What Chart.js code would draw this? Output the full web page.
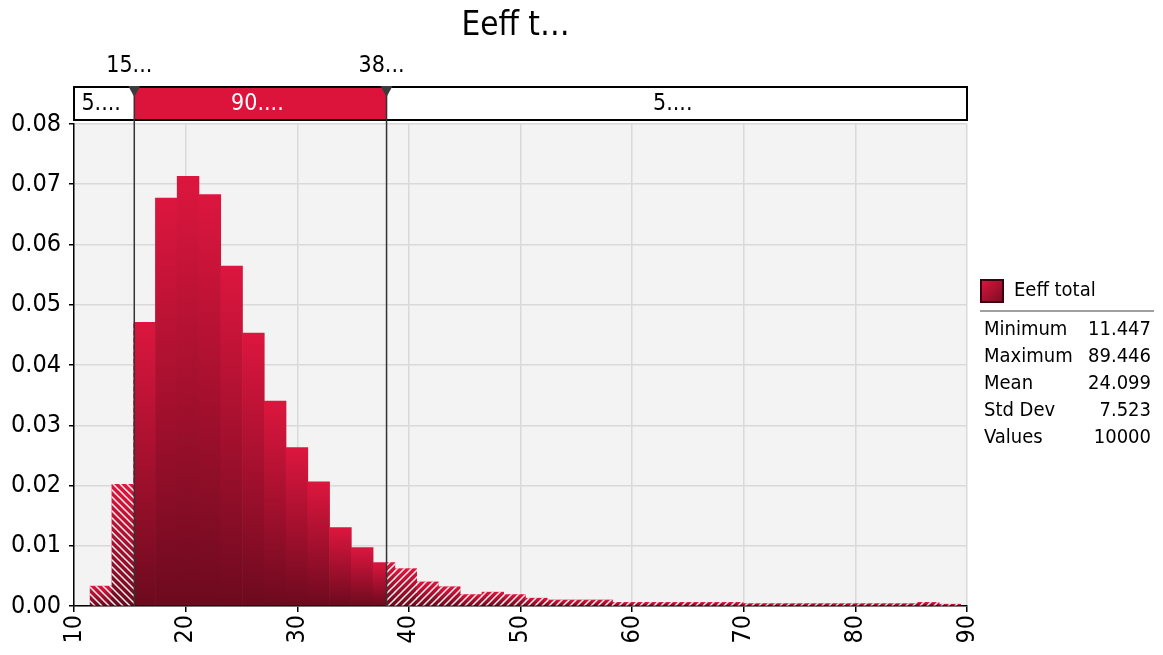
<!DOCTYPE html>
<html>
<head>
<meta charset="utf-8">
<script src="https://cdn.jsdelivr.net/npm/chart.js@4.4.1/dist/chart.umd.min.js"></script>
<style>
  html, body { margin: 0; padding: 0; background: #fff; }
  #wrap { width: 1163px; height: 655px; }
</style>
</head>
<body>
<div id="wrap"><canvas id="hist"></canvas></div>
<script>
var FONT = "'DejaVu Sans Condensed', 'DejaVu Sans', Verdana, sans-serif";

// histogram bins (centres) and density values
var binCenters = [12.42, 14.37, 16.32, 18.27, 20.22, 22.17, 24.12, 26.07, 28.02, 29.97,
    31.92, 33.87, 35.82, 37.77, 39.72, 41.67, 43.62, 45.57, 47.52, 49.47,
    51.42, 53.37, 55.32, 57.27, 59.22, 61.17, 63.12, 65.07, 67.02, 68.97,
    70.92, 72.87, 74.82, 76.77, 78.72, 80.67, 82.62, 84.57, 86.52, 88.47];
var density = [0.0033, 0.0202, 0.0471, 0.0677, 0.0713, 0.0683, 0.0564, 0.0453, 0.0340, 0.0263,
    0.0206, 0.0130, 0.0097, 0.0072, 0.0062, 0.0040, 0.0032, 0.0019, 0.0023, 0.0019,
    0.0013, 0.0010, 0.0010, 0.0010, 0.0006, 0.0006, 0.0006, 0.0006, 0.0006, 0.0006,
    0.0004, 0.0004, 0.0004, 0.0004, 0.0004, 0.0004, 0.0004, 0.0004, 0.0006, 0.0003];

var lowerBound = 15.4;
var upperBound = 38.0;
var markerLabels = ["15...", "38..."];
var bandLabels = ["5....", "90....", "5...."];
var titleText = "Eeff t\u2026";
var seriesName = "Eeff total";
var statNames = ["Minimum", "Maximum", "Mean", "Std Dev", "Values"];
var statValues = ["11.447", "89.446", "24.099", "7.523", "10000"];

function makePoints() {
    return binCenters.map(function (x, i) { return { x: x, y: density[i] }; });
}

function barGradient(c) {
    var chart = c.chart;
    if (!chart.chartArea || c.parsed == null) return "#DC143C";
    var ys = chart.scales.y;
    var top = ys.getPixelForValue(c.parsed.y);
    var bottom = ys.getPixelForValue(0);
    if (bottom - top < 1) top = bottom - 1;
    var g = chart.ctx.createLinearGradient(0, top, 0, bottom);
    g.addColorStop(0, "#DC163E");
    g.addColorStop(1, "#6C0A1E");
    return g;
}

var hatchCache = {};
function hatch(forward) {
    return function (c) {
        var key = forward ? "f" : "b";
        if (hatchCache[key]) return hatchCache[key];
        var s = 7;
        var cv = document.createElement("canvas");
        cv.width = s; cv.height = s;
        var g = cv.getContext("2d");
        g.strokeStyle = "rgba(255,255,255,0.92)";
        g.lineWidth = 1.5;
        g.beginPath();
        if (forward) {
            g.moveTo(-1, s + 1); g.lineTo(s + 1, -1);
            g.moveTo(-1, 1); g.lineTo(1, -1);
            g.moveTo(s - 1, s + 1); g.lineTo(s + 1, s - 1);
        } else {
            g.moveTo(-1, -1); g.lineTo(s + 1, s + 1);
            g.moveTo(s - 1, -1); g.lineTo(s + 1, 1);
            g.moveTo(-1, s - 1); g.lineTo(1, s + 1);
        }
        g.stroke();
        hatchCache[key] = c.chart.ctx.createPattern(cv, "repeat");
        return hatchCache[key];
    };
}

var extras = {
    id: "extras",
    beforeDraw: function (chart) {
        var a = chart.chartArea, ctx = chart.ctx;
        ctx.save();
        ctx.fillStyle = "#F3F3F3";
        ctx.fillRect(a.left, a.top, a.right - a.left, a.bottom - a.top);
        ctx.restore();
    },
    beforeDatasetDraw: function (chart, args) {
        var side = chart.data.datasets[args.index].hatchSide;
        if (!side) return;
        var a = chart.chartArea, ctx = chart.ctx, xs = chart.scales.x;
        ctx.save();
        ctx.beginPath();
        if (side === "left") {
            var xl = xs.getPixelForValue(lowerBound);
            ctx.rect(a.left, a.top, xl - a.left, a.bottom - a.top);
        } else {
            var xh = xs.getPixelForValue(upperBound);
            ctx.rect(xh, a.top, a.right - xh, a.bottom - a.top);
        }
        ctx.clip();
    },
    afterDatasetDraw: function (chart, args) {
        if (chart.data.datasets[args.index].hatchSide) chart.ctx.restore();
    },
    afterDraw: function (chart) {
        var a = chart.chartArea, ctx = chart.ctx, xs = chart.scales.x;
        var xl = xs.getPixelForValue(lowerBound);
        var xh = xs.getPixelForValue(upperBound);
        ctx.save();

        // title
        ctx.fillStyle = "#000";
        ctx.font = "33px " + FONT;
        ctx.textAlign = "center";
        ctx.textBaseline = "middle";
        ctx.fillText(titleText, (a.left + a.right) / 2 - 5, 26);

        // band above the plot
        var bTop = 87, bH = 33;
        ctx.fillStyle = "#fff";
        ctx.fillRect(a.left, bTop, a.right - a.left, bH);
        ctx.fillStyle = "#DC143C";
        ctx.fillRect(xl, bTop, xh - xl, bH);
        ctx.strokeStyle = "#000";
        ctx.lineWidth = 2;
        ctx.strokeRect(a.left, bTop, a.right - a.left, bH);
        ctx.font = "23px " + FONT;
        ctx.fillStyle = "#000";
        ctx.fillText(bandLabels[0], (a.left + xl) / 2 - 3, bTop + bH / 2 + 1);
        ctx.fillText(bandLabels[2], (xh + a.right) / 2 - 4, bTop + bH / 2 + 1);
        ctx.fillStyle = "#fff";
        ctx.fillText(bandLabels[1], (xl + xh) / 2 - 3, bTop + bH / 2 + 1);

        // bound lines
        ctx.strokeStyle = "#333";
        ctx.lineWidth = 1.5;
        [xl, xh].forEach(function (x) {
            ctx.beginPath();
            ctx.moveTo(x, bTop);
            ctx.lineTo(x, a.bottom);
            ctx.stroke();
        });

        // markers and labels
        ctx.fillStyle = "#3C3C3C";
        [xl, xh].forEach(function (x) {
            ctx.beginPath();
            ctx.moveTo(x - 6, bTop - 1);
            ctx.lineTo(x + 6, bTop - 1);
            ctx.lineTo(x, bTop + 10);
            ctx.closePath();
            ctx.fill();
        });
        ctx.fillStyle = "#000";
        ctx.font = "23px " + FONT;
        ctx.fillText(markerLabels[0], xl - 5, 66);
        ctx.fillText(markerLabels[1], xh - 5, 66);

        // legend
        var sg = ctx.createLinearGradient(981, 280, 1003, 302);
        sg.addColorStop(0, "#DC163E");
        sg.addColorStop(1, "#7A0C22");
        ctx.fillStyle = sg;
        ctx.fillRect(981, 280, 22, 22);
        ctx.strokeStyle = "#3A0010";
        ctx.lineWidth = 2;
        ctx.strokeRect(981, 280, 22, 22);
        ctx.fillStyle = "#000";
        ctx.font = "20px " + FONT;
        ctx.textAlign = "left";
        ctx.fillText(seriesName, 1014, 291);
        ctx.strokeStyle = "#A0A0A0";
        ctx.beginPath();
        ctx.moveTo(980, 311);
        ctx.lineTo(1154, 311);
        ctx.stroke();
        statNames.forEach(function (n, i) {
            var y = 330 + i * 27;
            ctx.textAlign = "left";
            ctx.fillText(n, 984, y);
            ctx.textAlign = "right";
            ctx.fillText(statValues[i], 1151, y);
        });
        ctx.restore();
    }
};

new Chart(document.getElementById("hist"), {
    type: "bar",
    data: {
        datasets: [{
            label: seriesName,
            order: 2,
            data: makePoints(),
            backgroundColor: barGradient,
            borderWidth: 0,
            barPercentage: 1,
            categoryPercentage: 1
        }, {
            label: "lower tail",
            order: 1,
            hatchSide: "left",
            data: makePoints(),
            backgroundColor: hatch(false),
            borderWidth: 0,
            barPercentage: 1,
            categoryPercentage: 1
        }, {
            label: "upper tail",
            order: 1,
            hatchSide: "right",
            data: makePoints(),
            backgroundColor: hatch(true),
            borderWidth: 0,
            barPercentage: 1,
            categoryPercentage: 1
        }]
    },
    options: {
        responsive: true,
        maintainAspectRatio: false,
        animation: false,
        grouped: false,
        layout: { padding: { top: 124, right: 196, left: 0, bottom: 0 } },
        plugins: {
            legend: { display: false },
            tooltip: { enabled: false },
            title: { display: false }
        },
        scales: {
            x: {
                type: "linear",
                min: 10,
                max: 90,
                offset: false,
                afterFit: function (s) { s.height = 49; },
                grid: {
                    offset: false,
                    color: "#D9D9D9",
                    lineWidth: 1.5,
                    tickColor: "#000",
                    tickLength: 6
                },
                border: { color: "#000", width: 1.5 },
                ticks: {
                    stepSize: 10,
                    minRotation: 90,
                    maxRotation: 90,
                    autoSkip: false,
                    padding: 3,
                    color: "#000",
                    font: { family: FONT, size: 25 }
                }
            },
            y: {
                min: 0,
                max: 0.08,
                afterFit: function (s) { s.width = 74; },
                grid: {
                    color: "#D9D9D9",
                    lineWidth: 1.5,
                    tickColor: "#000",
                    tickLength: 5
                },
                border: { color: "#000", width: 1.5 },
                ticks: {
                    stepSize: 0.01,
                    padding: 8,
                    color: "#000",
                    font: { family: FONT, size: 25 },
                    callback: function (v) { return v.toFixed(2); }
                }
            }
        }
    },
    plugins: [extras]
});
</script>
</body>
</html>
